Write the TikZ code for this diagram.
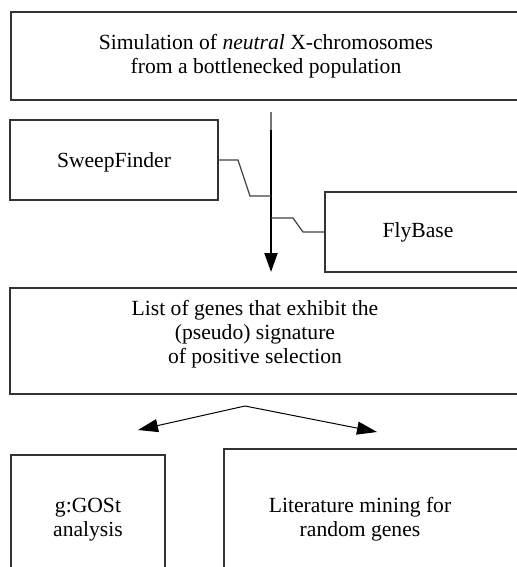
\documentclass[tikz,border=0pt]{standalone}
\usepackage{fontspec}
\setmainfont{Liberation Serif}
\usetikzlibrary{arrows.meta,positioning}

\begin{document}
\begin{tikzpicture}[x=0.5pt,y=-0.5pt,
	box/.style={draw=black!80, line width=0.7pt, inner sep=0pt},
	txt/.style={align=center, font=\fontsize{10.8}{12}\selectfont},
	link/.style={draw=black!75, line width=0.6pt}]
		\clip (0,0) rectangle (517,567);

		\draw (266,56) node [box, txt, minimum width=255pt, minimum height=44pt] (sim) {Simulation of \textit{neutral} X-chromosomes\\from a bottlenecked population};
		\draw (114,160) node [box, minimum width=104pt, minimum height=40pt] (sweep) {};
		\draw (114,162) node [txt] (sweeptxt) {SweepFinder};
		\draw (430,232) node [box, minimum width=105pt, minimum height=40pt] (fly) {};
		\draw (418,232) node [txt] (flytxt) {FlyBase};
		\draw (270,341) node [box, minimum width=260pt, minimum height=53pt] (list) {};
		\draw (255,334) node [txt] (listtxt) {List of genes that exhibit the\\(pseudo) signature\\of positive selection};
		\draw (88,520) node [box, txt, minimum width=77pt, minimum height=65pt] (gost) {g:GOSt\\analysis};
		\draw (377,520) node [box, minimum width=153pt, minimum height=71pt] (lit) {};
		\draw (360,519) node [txt] (littxt) {Literature mining for\\random genes};

		% joins on the main line
		\coordinate (top) at (271,112);
		\coordinate (tip) at (271,272);
		\coordinate (j1) at (271,196);
		\coordinate (j2) at (271,218);
		\coordinate (fork) at (245,406);
		\coordinate (left) at (138,430);
		\coordinate (right) at (377,432);

		\draw [black!55, line width=0.7pt] (top) -- (271,130);
		\draw [line width=1pt, -{Triangle[length=9.5pt,width=6.5pt]}] (271,130) -- (tip);
		\draw [link] (sweep.east) -- (238,160) -- (250,196) -- (j1);
		\draw [link] (j2) -- (293,218) -- (303,232) -- (fly.west);
		\path [line width=0.5pt, -{Triangle[length=10pt,width=6.5pt]}]
		(fork) edge (left)
		(fork) edge (right);
	\end{tikzpicture}
\end{document}
